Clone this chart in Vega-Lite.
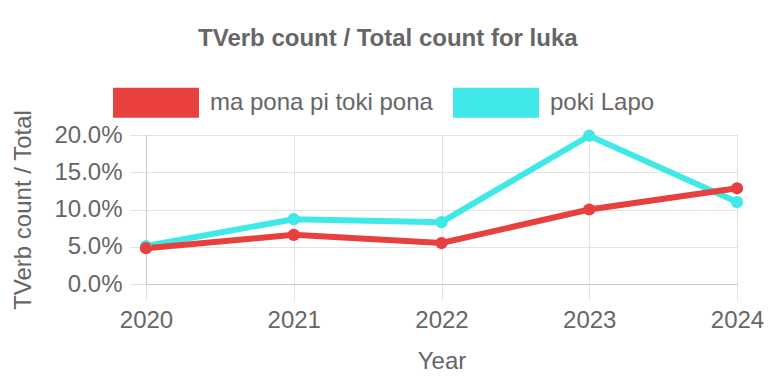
{
  "$schema": "https://vega.github.io/schema/vega-lite/v6.json",
  "width": 591,
  "height": 149,
  "autosize": {"type": "none"},
  "padding": {"left": 146, "top": 135, "right": 35, "bottom": 104},
  "background": "white",
  "title": {
    "text": "TVerb count / Total count for luka",
    "font": "Liberation Sans",
    "fontSize": 24,
    "fontWeight": "bold",
    "color": "#666666",
    "anchor": "middle",
    "frame": "bounds",
    "offset": 30
  },
  "data": {
    "values": [
      {"Year": "2020", "series": "poki Lapo", "ratio": 0.051},
      {"Year": "2021", "series": "poki Lapo", "ratio": 0.087},
      {"Year": "2022", "series": "poki Lapo", "ratio": 0.083},
      {"Year": "2023", "series": "poki Lapo", "ratio": 0.199},
      {"Year": "2024", "series": "poki Lapo", "ratio": 0.110},
      {"Year": "2020", "series": "ma pona pi toki pona", "ratio": 0.048},
      {"Year": "2021", "series": "ma pona pi toki pona", "ratio": 0.066},
      {"Year": "2022", "series": "ma pona pi toki pona", "ratio": 0.055},
      {"Year": "2023", "series": "ma pona pi toki pona", "ratio": 0.100},
      {"Year": "2024", "series": "ma pona pi toki pona", "ratio": 0.1285}
    ]
  },
  "config": {
    "view": {"stroke": null},
    "axis": {
      "labelFont": "Liberation Sans",
      "labelFontSize": 24,
      "labelColor": "#666666",
      "titleFont": "Liberation Sans",
      "titleFontSize": 24,
      "titleFontWeight": "normal",
      "titleColor": "#666666",
      "gridColor": "#e2e2e2",
      "gridOpacity": 1,
      "tickColor": "#e2e2e2",
      "tickSize": 16,
      "domainColor": "#c9c9c9",
      "labelPadding": 8
    }
  },
  "encoding": {
    "x": {
      "field": "Year",
      "type": "ordinal",
      "scale": {"type": "point", "padding": 0},
      "axis": {"labelAngle": 0, "title": "Year", "titlePadding": 17, "grid": true}
    },
    "y": {
      "field": "ratio",
      "type": "quantitative",
      "scale": {"domain": [0, 0.2]},
      "axis": {"format": ".1%", "values": [0, 0.05, 0.1, 0.15, 0.2], "title": "TVerb count / Total", "titlePadding": 18}
    },
    "color": {
      "field": "series",
      "type": "nominal",
      "scale": {"domain": ["ma pona pi toki pona", "poki Lapo"], "range": ["#e83f3f", "#40e8e8"]},
      "legend": {
        "orient": "none",
        "legendX": -33,
        "legendY": -54,
        "direction": "horizontal",
        "title": null,
        "symbolType": "M-1,-0.7H3V0.7H-1Z",
        "symbolSize": 1849,
        "symbolStrokeWidth": 0,
        "symbolOpacity": 1,
        "labelFont": "Liberation Sans",
        "labelFontSize": 24,
        "labelColor": "#666666",
        "labelLimit": 400,
        "labelOffset": 54,
        "columnPadding": 20
      }
    }
  },
  "layer": [
    {"mark": {"type": "line", "strokeWidth": 6}},
    {"mark": {"type": "point", "filled": true, "size": 150, "opacity": 1}}
  ]
}
